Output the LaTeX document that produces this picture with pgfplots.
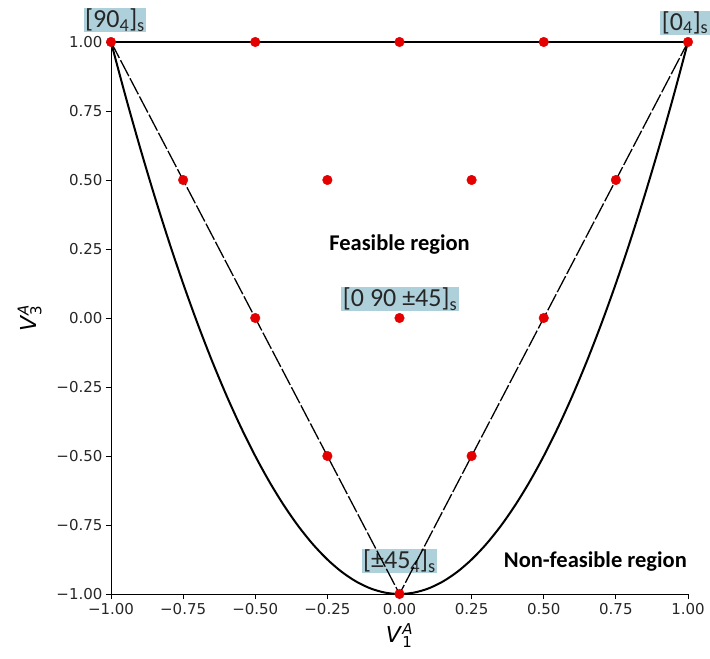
\documentclass[border=0pt]{standalone}
\usepackage{fontspec}
\setmainfont{DejaVu Sans}
\newfontfamily\calib{Carlito}
\usepackage{pgfplots}
\pgfplotsset{compat=1.18}
\definecolor{boxblue}{RGB}{174,208,218}
\definecolor{ptred}{RGB}{228,0,0}
\begin{document}
\begin{tikzpicture}[x=1pt,y=1pt]
\useasboundingbox (-111,-65) rectangle (599,594);
\begin{axis}[
  at={(288.5pt,276pt)}, anchor=origin,
  width=577pt, height=552pt, scale only axis,
  xmin=-1, xmax=1, ymin=-1, ymax=1,
  clip=false,
  axis x line*=bottom, axis y line*=left,
  axis line style={-, line width=0.9pt},
  tick align=outside, major tick length=5pt,
  tick style={black, line width=0.9pt},
  xtick={-1,-0.75,-0.5,-0.25,0,0.25,0.5,0.75,1},
  ytick={-1,-0.75,-0.5,-0.25,0,0.25,0.5,0.75,1},
  xticklabels={−1.00,−0.75,−0.50,−0.25,0.00,0.25,0.50,0.75,1.00},
  yticklabels={−1.00,−0.75,−0.50,−0.25,0.00,0.25,0.50,0.75,1.00},
  ticklabel style={font=\fontsize{15}{18}\selectfont, text=black!85},
  xticklabel style={yshift=-1pt},
  xlabel={\textit{V}$_{\mbox{\fontsize{15}{16}\selectfont 1}}^{\mbox{\fontsize{15}{16}\selectfont\itshape A}}$},
  ylabel={\textit{V}$_{\mbox{\fontsize{15}{16}\selectfont 3}}^{\mbox{\fontsize{15}{16}\selectfont\itshape A}}$},
  label style={font=\fontsize{22}{24}\selectfont},
  xlabel style={yshift=-2pt},
  ylabel style={yshift=8pt},
]
% lower bound of the feasible region
\addplot[black, line width=2pt, smooth] coordinates {
 (-1,1) (-0.95,0.805) (-0.9,0.62) (-0.85,0.445) (-0.8,0.28) (-0.75,0.125)
 (-0.7,-0.02) (-0.65,-0.155) (-0.6,-0.28) (-0.55,-0.395) (-0.5,-0.5)
 (-0.45,-0.595) (-0.4,-0.68) (-0.35,-0.755) (-0.3,-0.82) (-0.25,-0.875)
 (-0.2,-0.92) (-0.15,-0.955) (-0.1,-0.98) (-0.05,-0.995) (0,-1)
 (0.05,-0.995) (0.1,-0.98) (0.15,-0.955) (0.2,-0.92) (0.25,-0.875)
 (0.3,-0.82) (0.35,-0.755) (0.4,-0.68) (0.45,-0.595) (0.5,-0.5)
 (0.55,-0.395) (0.6,-0.28) (0.65,-0.155) (0.7,-0.02) (0.75,0.125)
 (0.8,0.28) (0.85,0.445) (0.9,0.62) (0.95,0.805) (1,1)};
% upper bound
\addplot[black, line width=2pt] coordinates {(-1,1) (1,1)};
% laminate annotation boxes sit under the lines
\tikzset{lam/.style={fill=boxblue, inner xsep=1.5pt, inner ysep=0.5pt, font=\calib\fontsize{26}{28}\selectfont, text=black!85}}
\node[lam] at (axis cs:-0.986,1.08) {[90\textsubscript{4}]\textsubscript{s}};
\node[lam] at (axis cs:0.99,1.07) {[0\textsubscript{4}]\textsubscript{s}};
\node[lam] at (axis cs:0.002,0.068) {[0 90 ±45]\textsubscript{s}};
\node[lam] at (axis cs:0.0,-0.88) {[±45\textsubscript{4}]\textsubscript{s}};
% lamination triangle
\addplot[black, line width=1.3pt, dash pattern=on 18pt off 2.5pt] coordinates {(-1,1) (0,-1) (1,1)};
% laminate points
\addplot[only marks, mark=*, mark size=4.8pt, ptred, mark options={draw=ptred, fill=ptred}] coordinates {
 (-1,1) (-0.5,1) (0,1) (0.5,1) (1,1)
 (-0.75,0.5) (-0.25,0.5) (0.25,0.5) (0.75,0.5)
 (-0.5,0) (0,0) (0.5,0)
 (-0.25,-0.5) (0.25,-0.5)
 (0,-1)};
\node[font=\calib\bfseries\fontsize{22.5}{24}\selectfont] at (axis cs:0.0,0.265) {Feasible region};
\node[font=\calib\bfseries\fontsize{22.5}{24}\selectfont] at (axis cs:0.679,-0.884) {Non-feasible region};
\end{axis}
\end{tikzpicture}
\end{document}
